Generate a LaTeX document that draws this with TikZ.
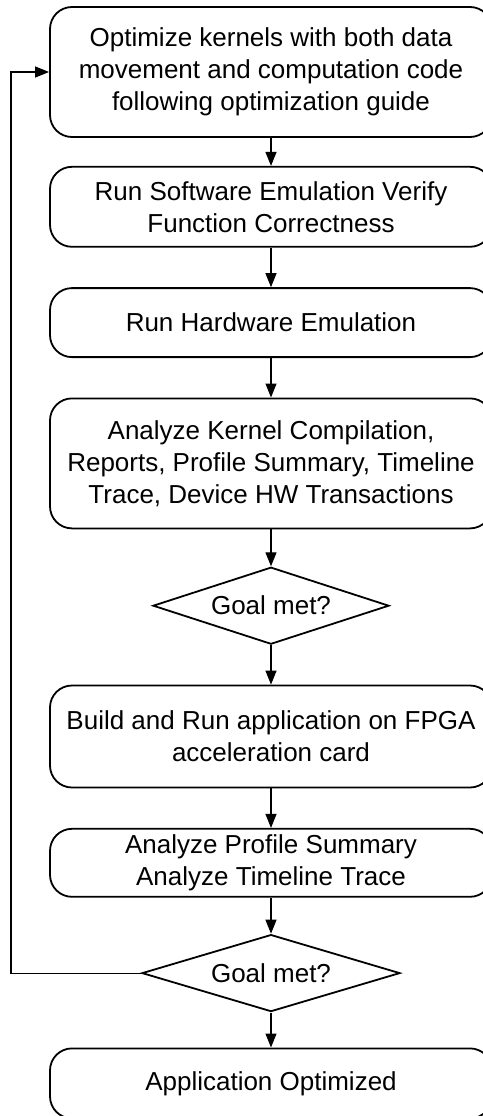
\documentclass[tikz,border=0pt]{standalone}
\usepackage{fontspec}
\setmainfont{Liberation Sans}
\usetikzlibrary{arrows.meta, positioning, shapes.geometric}

\begin{document}
\begin{tikzpicture}[
  x=1pt, y=1pt,
  node distance=39.5pt,
  stepbox/.style={rectangle, rounded corners=22pt, draw=black, line width=1.8pt,
              minimum width=442pt, font=\fontsize{26}{32}\selectfont, align=center, inner sep=3pt},
  check/.style={diamond, aspect=3.1, draw=black, line width=1.8pt, minimum width=240pt, minimum height=77pt,
              font=\fontsize{26}{32}\selectfont, inner sep=0pt},
  arrow/.style={-{Triangle[length=14pt, width=11pt]}, line width=1.2pt, black}
]
  \useasboundingbox (0,0) rectangle (482,-1116);
  \node[stepbox, minimum height=130pt] (optimize) at (271,-72)
    {Optimize kernels with both data\\movement and computation code\\following optimization guide};
  \node[stepbox, minimum height=80pt, below=28pt of optimize] (swemu)
    {Run Software Emulation Verify\\Function Correctness};
  \node[stepbox, minimum height=69pt, below=of swemu] (hwemu) {Run Hardware Emulation};
  \node[stepbox, minimum height=130pt, below=of hwemu] (analyze)
    {Analyze Kernel Compilation,\\Reports, Profile Summary, Timeline\\Trace, Device HW Transactions};
  \node[check, minimum width=236pt, below=37pt of analyze] (goalA) {Goal met?};
  \node[stepbox, minimum height=102pt, below=of goalA] (build)
    {Build and Run application on FPGA\\acceleration card};
  \node[stepbox, minimum height=68pt, below=of build] (profile)
    {Analyze Profile Summary\\Analyze Timeline Trace};
  \node[check, minimum width=258pt, aspect=3.4, below=36pt of profile] (goalB) {Goal met?};
  \node[stepbox, minimum height=70pt, below=35pt of goalB] (done) {Application Optimized};
  \coordinate (back) at (11,0);

  \draw[arrow] (optimize) -- (swemu);
  \draw[arrow] (swemu)    -- (hwemu);
  \draw[arrow] (hwemu)    -- (analyze);
  \draw[arrow] (analyze)  -- (goalA);
  \draw[arrow] (goalA)    -- (build);
  \draw[arrow] (build)    -- (profile);
  \draw[arrow] (profile)  -- (goalB);
  \draw[arrow] (goalB)    -- (done);
  \draw[arrow] (goalB.west) -- (goalB.west -| back) |- (optimize.west);
\end{tikzpicture}
\end{document}
